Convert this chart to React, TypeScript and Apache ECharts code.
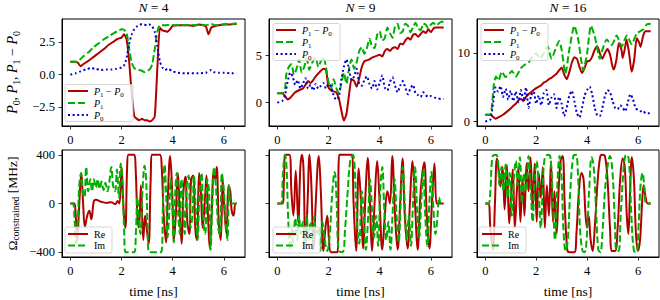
import React, { useEffect, useRef } from "react";
import * as echarts from "echarts";

// ---------- data ----------
const timeTicks = [0, 2, 4, 6];
const panelN = ["4", "9", "16"];
const topYTicks = [[-2.5, 0, 2.5], [0, 5], [0, 10]];
const bottomYTicks = [-400, 0, 400];

// N = 4, populations
const n4Diff = [[0,1.0],[0.2,1.0],[0.3,0.9],[0.4,0.65],[0.5,0.8],[0.7,1.05],[0.9,1.35],[1.1,1.65],[1.3,1.95],[1.5,2.3],[1.7,2.55],[1.85,2.75],[2.0,2.85],[2.1,3.1],[2.2,2.7],[2.3,1.0],[2.4,-1.5],[2.5,-3.2],[2.6,-3.4],[2.7,-3.5],[2.8,-3.4],[2.9,-3.5],[3.0,-3.5],[3.1,-3.6],[3.2,-3.5],[3.3,-3.2],[3.4,0.5],[3.5,3.6],[3.6,3.4],[3.7,3.35],[3.8,3.3],[3.9,3.5],[4.0,3.75],[4.2,3.8],[4.4,3.8],[4.6,3.8],[4.8,3.75],[5.0,3.85],[5.2,3.8],[5.3,3.7],[5.4,3.1],[5.5,3.6],[5.6,3.7],[5.8,3.8],[6.0,3.85],[6.2,3.85],[6.4,3.9],[6.5,3.9]];
const n4P1 = [[0,1.0],[0.3,1.0],[0.4,1.2],[0.5,1.4],[0.7,1.7],[0.9,2.1],[1.1,2.4],[1.3,2.7],[1.5,2.95],[1.7,3.2],[1.9,3.4],[2.0,3.5],[2.1,3.45],[2.2,3.2],[2.3,2.0],[2.4,0.9],[2.5,0.5],[2.6,0.4],[2.8,0.3],[2.9,0.2],[3.0,0.3],[3.1,0.4],[3.2,0.8],[3.3,2.0],[3.4,3.3],[3.5,3.8],[3.7,3.8],[3.9,3.85],[4.1,3.8],[4.3,3.85],[4.5,3.8],[4.7,3.85],[4.9,3.8],[5.1,3.85],[5.3,3.8],[5.5,3.9],[5.7,3.8],[5.9,3.85],[6.1,3.9],[6.3,3.9],[6.5,3.95]];
const n4P0 = [[0,0.0],[0.2,0.1],[0.4,0.25],[0.6,0.4],[0.8,0.5],[1.0,0.45],[1.2,0.35],[1.4,0.4],[1.6,0.4],[1.8,0.45],[2.0,0.55],[2.1,0.7],[2.2,1.3],[2.3,2.4],[2.4,3.1],[2.5,3.5],[2.6,3.7],[2.7,3.8],[2.8,3.9],[3.0,3.8],[3.1,3.85],[3.2,3.7],[3.3,3.3],[3.4,2.2],[3.5,1.0],[3.6,0.55],[3.7,0.35],[3.8,0.45],[4.0,0.25],[4.2,0.15],[4.5,0.1],[5.0,0.1],[5.3,0.15],[5.5,0.35],[5.6,0.2],[5.8,0.15],[6.0,0.15],[6.3,0.1],[6.5,0.1]];

// N = 9, populations
const n9Diff = [[0,1.0],[0.2,1.0],[0.3,0.7],[0.4,0.35],[0.5,0.5],[0.7,1.1],[0.9,1.4],[1.0,1.5],[1.1,1.9],[1.2,2.3],[1.3,2.1],[1.4,2.4],[1.5,2.8],[1.6,3.1],[1.7,3.4],[1.8,3.6],[1.9,3.5],[1.95,2.6],[2.0,1.6],[2.1,1.3],[2.2,1.2],[2.3,1.1],[2.4,0.5],[2.5,-0.8],[2.6,-1.9],[2.7,-1.2],[2.8,0.8],[2.9,2.5],[3.0,2.3],[3.1,1.7],[3.2,2.6],[3.3,3.8],[3.4,4.4],[3.5,4.5],[3.6,4.6],[3.7,4.8],[3.8,4.9],[3.9,5.0],[4.0,5.1],[4.1,4.9],[4.2,5.5],[4.3,5.7],[4.4,5.5],[4.5,5.8],[4.6,5.9],[4.7,5.7],[4.8,6.3],[4.9,6.2],[5.0,6.6],[5.1,6.9],[5.2,6.7],[5.3,7.2],[5.4,7.3],[5.5,7.0],[5.6,7.3],[5.7,7.6],[5.8,7.4],[5.9,7.8],[6.0,7.5],[6.1,7.9],[6.2,8.0],[6.3,8.0],[6.5,8.0]];
const n9P1 = [[0,1.0],[0.2,1.0],[0.3,1.5],[0.35,3.0],[0.45,3.8],[0.55,4.1],[0.65,3.0],[0.75,3.6],[0.85,4.6],[0.95,3.2],[1.05,3.8],[1.15,4.7],[1.25,3.5],[1.35,4.2],[1.5,4.8],[1.6,3.8],[1.7,4.4],[1.8,4.9],[1.9,3.8],[2.0,2.2],[2.1,1.5],[2.2,2.5],[2.3,1.6],[2.4,1.0],[2.5,2.0],[2.6,3.2],[2.7,2.0],[2.8,3.6],[2.9,4.6],[3.0,3.6],[3.1,4.3],[3.2,5.5],[3.3,5.9],[3.4,5.2],[3.5,5.8],[3.6,6.8],[3.7,6.0],[3.8,5.8],[3.9,7.2],[4.0,7.6],[4.1,6.6],[4.2,6.9],[4.3,8.0],[4.4,7.4],[4.5,6.9],[4.6,8.1],[4.7,8.4],[4.8,7.4],[4.9,7.6],[5.0,8.4],[5.1,8.2],[5.2,7.5],[5.3,8.0],[5.4,8.5],[5.5,7.9],[5.6,7.7],[5.7,8.4],[5.8,8.3],[5.9,7.9],[6.0,8.3],[6.1,8.5],[6.2,8.2],[6.3,8.4],[6.4,8.6],[6.5,8.6]];
const n9P0 = [[0,0.0],[0.2,0.2],[0.3,0.8],[0.4,2.2],[0.5,3.2],[0.6,2.8],[0.7,1.9],[0.8,2.4],[0.9,1.5],[1.0,2.0],[1.1,2.6],[1.2,1.5],[1.3,1.9],[1.4,1.3],[1.5,2.0],[1.6,1.5],[1.7,1.8],[1.8,2.1],[1.9,1.5],[2.0,2.0],[2.1,1.7],[2.2,0.8],[2.3,0.3],[2.4,0.6],[2.5,2.5],[2.6,3.8],[2.7,4.6],[2.8,3.6],[2.9,2.4],[3.0,2.8],[3.1,3.6],[3.2,2.0],[3.3,1.8],[3.4,2.4],[3.5,2.8],[3.6,2.0],[3.7,1.5],[3.8,2.3],[3.9,1.4],[4.0,2.1],[4.1,2.9],[4.2,1.6],[4.3,1.3],[4.4,2.2],[4.5,2.7],[4.6,1.8],[4.7,1.1],[4.8,1.8],[4.9,2.3],[5.0,1.6],[5.1,0.9],[5.2,1.5],[5.3,1.9],[5.4,1.0],[5.5,0.8],[5.6,0.6],[5.7,1.1],[5.8,0.8],[5.9,0.6],[6.0,0.7],[6.2,0.5],[6.4,0.4],[6.5,0.4]];

// N = 16, populations
const n16Diff = [[0,1.0],[0.2,1.0],[0.3,0.7],[0.4,0.4],[0.5,0.6],[0.7,1.0],[0.9,1.6],[1.0,1.9],[1.1,2.3],[1.2,2.6],[1.3,3.1],[1.4,3.3],[1.5,3.0],[1.6,3.6],[1.7,4.0],[1.8,4.3],[1.9,4.6],[2.0,4.9],[2.1,5.1],[2.2,5.3],[2.3,5.7],[2.4,5.9],[2.5,6.2],[2.6,6.4],[2.7,6.7],[2.8,7.0],[2.9,7.5],[3.0,7.9],[3.1,6.9],[3.2,6.2],[3.3,7.2],[3.4,8.6],[3.5,9.4],[3.6,9.2],[3.7,8.0],[3.8,7.1],[3.9,7.8],[4.0,8.8],[4.1,8.9],[4.2,9.5],[4.3,10.5],[4.4,11.0],[4.5,10.0],[4.6,9.2],[4.7,10.0],[4.8,10.6],[4.9,9.8],[5.0,8.0],[5.05,7.6],[5.15,9.0],[5.25,11.5],[5.35,10.5],[5.4,9.3],[5.5,11.0],[5.55,12.0],[5.65,10.0],[5.75,7.3],[5.85,9.0],[5.95,12.2],[6.05,11.5],[6.1,10.9],[6.2,12.5],[6.3,13.2],[6.4,13.2],[6.5,13.2]];
const n16P1 = [[0,1.0],[0.2,1.0],[0.28,3.0],[0.34,5.5],[0.42,6.6],[0.52,6.0],[0.65,7.3],[0.8,6.5],[0.95,7.0],[1.05,7.4],[1.2,6.6],[1.4,7.8],[1.55,8.3],[1.7,8.6],[1.85,9.5],[2.0,10.0],[2.15,9.2],[2.3,10.0],[2.45,11.0],[2.6,9.2],[2.75,10.5],[2.9,11.8],[3.0,10.5],[3.15,7.0],[3.3,10.5],[3.5,14.0],[3.65,12.0],[3.85,7.5],[4.0,10.0],[4.15,14.0],[4.3,12.5],[4.5,9.2],[4.6,10.5],[4.77,12.0],[4.97,11.2],[5.16,12.6],[5.36,11.0],[5.56,12.6],[5.75,11.3],[5.95,12.9],[6.08,13.2],[6.21,13.5],[6.34,14.2],[6.5,14.3]];
const n16P0 = [[0,0.0],[0.2,0.3],[0.3,2.5],[0.4,5.0],[0.5,4.4],[0.6,5.2],[0.7,3.6],[0.8,4.8],[0.9,3.2],[1.0,4.5],[1.1,3.0],[1.2,4.4],[1.3,2.8],[1.4,4.6],[1.5,3.0],[1.6,5.0],[1.7,2.0],[1.8,3.8],[1.9,4.4],[2.0,2.6],[2.1,3.8],[2.2,2.4],[2.3,4.2],[2.4,4.6],[2.5,2.4],[2.6,3.5],[2.7,4.0],[2.8,2.0],[2.9,3.6],[3.0,2.6],[3.1,0.8],[3.2,2.0],[3.3,3.8],[3.4,4.5],[3.5,3.0],[3.6,1.2],[3.7,0.6],[3.8,2.0],[3.9,3.8],[4.0,4.6],[4.1,5.1],[4.2,4.0],[4.3,2.0],[4.4,0.9],[4.5,0.8],[4.6,2.0],[4.7,3.7],[4.8,4.6],[4.9,4.3],[5.0,3.0],[5.1,2.0],[5.2,1.8],[5.3,2.4],[5.4,2.0],[5.5,1.5],[5.6,2.8],[5.7,4.0],[5.8,3.3],[5.9,2.0],[6.0,1.7],[6.1,1.5],[6.2,1.6],[6.3,1.2],[6.4,1.2],[6.5,1.2]];

// Control amplitudes [MHz]
const n4Re = [[0,0],[0.15,0],[0.2,-60],[0.27,-300],[0.34,-50],[0.43,250],[0.5,0],[0.57,-190],[0.66,-100],[0.74,-60],[0.82,-130],[0.92,20],[1.0,30],[1.2,15],[1.4,5],[1.6,10],[1.75,-5],[1.85,20],[1.92,0],[2.0,300],[2.08,-50],[2.15,-200],[2.22,300],[2.27,400],[2.5,400],[2.55,300],[2.62,-100],[2.68,-200],[2.76,150],[2.85,-300],[2.92,-100],[2.98,-200],[3.06,-330],[3.14,200],[3.2,400],[3.5,400],[3.57,300],[3.65,-100],[3.74,-320],[3.8,0],[3.9,390],[3.98,100],[4.05,-300],[4.12,-100],[4.2,250],[4.28,-100],[4.35,-330],[4.42,100],[4.5,220],[4.57,-150],[4.65,-250],[4.72,200],[4.8,230],[4.88,-200],[4.95,-300],[5.03,250],[5.1,100],[5.17,-200],[5.25,0],[5.32,230],[5.38,-100],[5.45,-370],[5.52,-100],[5.6,250],[5.67,200],[5.72,300],[5.8,-150],[5.88,-300],[5.95,200],[6.02,-50],[6.1,-250],[6.18,150],[6.25,100],[6.3,-50],[6.38,-100],[6.45,0],[6.5,0]];
const n4Im = [[0,0],[0.1,0],[0.17,-150],[0.22,-330],[0.3,-100],[0.35,150],[0.42,250],[0.48,100],[0.55,50],[0.62,300],[0.7,100],[0.78,200],[0.85,100],[0.92,200],[1.0,130],[1.07,200],[1.15,120],[1.22,180],[1.3,110],[1.37,170],[1.45,100],[1.52,170],[1.6,300],[1.67,150],[1.75,100],[1.82,280],[1.9,50],[1.97,330],[2.04,150],[2.1,-200],[2.16,-400],[2.5,-400],[2.56,-250],[2.62,50],[2.68,-150],[2.74,-250],[2.82,100],[2.9,310],[2.96,200],[3.02,-200],[3.08,-400],[3.55,-400],[3.62,0],[3.68,320],[3.74,100],[3.8,-280],[3.86,-100],[3.92,200],[3.98,0],[4.04,-320],[4.1,100],[4.16,250],[4.22,-100],[4.28,-250],[4.34,200],[4.4,50],[4.47,-250],[4.55,150],[4.62,230],[4.7,-200],[4.77,-100],[4.83,230],[4.9,-50],[4.97,-300],[5.05,100],[5.12,250],[5.2,-150],[5.27,-250],[5.35,200],[5.42,100],[5.48,-380],[5.55,0],[5.62,300],[5.7,100],[5.78,-200],[5.85,-260],[5.92,250],[6.0,100],[6.07,-150],[6.14,-300],[6.2,150],[6.26,0],[6.32,0],[6.5,0]];
const n9Re = [[0,0],[0.2,0],[0.26,200],[0.32,400],[0.47,400],[0.55,100],[0.63,-100],[0.72,270],[0.82,-160],[0.9,300],[0.96,400],[1.02,300],[1.1,-370],[1.18,0],[1.26,400],[1.33,150],[1.42,-380],[1.5,0],[1.62,390],[1.7,100],[1.8,-390],[1.88,-200],[1.95,-100],[2.02,-300],[2.1,-400],[2.35,-400],[2.42,400],[2.9,400],[2.98,0],[3.08,-390],[3.18,290],[3.27,0],[3.35,-370],[3.45,100],[3.53,375],[3.62,0],[3.7,-390],[3.8,0],[3.9,350],[4.0,0],[4.1,-380],[4.2,-100],[4.3,100],[4.4,0],[4.49,390],[4.6,-100],[4.7,-380],[4.8,0],[4.89,370],[4.98,-100],[5.09,-370],[5.18,0],[5.28,350],[5.38,0],[5.48,-380],[5.6,100],[5.74,340],[5.84,-100],[5.94,-370],[6.04,0],[6.14,330],[6.22,0],[6.28,0],[6.5,0]];
const n9Im = [[0,0],[0.15,0],[0.22,250],[0.3,400],[0.36,300],[0.42,-100],[0.5,-380],[0.56,-200],[0.62,-320],[0.7,-120],[0.78,-300],[0.85,-100],[0.92,-250],[1.0,-150],[1.08,-330],[1.15,-100],[1.22,-300],[1.3,-150],[1.38,-350],[1.45,-100],[1.52,-250],[1.6,-200],[1.68,-390],[1.76,-150],[1.85,-300],[1.95,-390],[2.05,-250],[2.15,100],[2.24,260],[2.32,0],[2.4,-390],[2.55,-400],[2.65,-200],[2.75,100],[2.85,350],[2.95,400],[3.02,300],[3.1,-100],[3.2,-330],[3.3,100],[3.38,-100],[3.46,-380],[3.55,-100],[3.62,200],[3.7,-50],[3.78,-280],[3.86,-100],[3.94,-350],[4.02,100],[4.1,300],[4.18,-50],[4.26,-300],[4.34,-150],[4.42,-380],[4.5,-100],[4.58,200],[4.66,-100],[4.74,-320],[4.82,0],[4.9,300],[4.98,0],[5.06,-300],[5.14,-100],[5.22,-350],[5.3,0],[5.38,300],[5.46,-50],[5.54,-280],[5.62,0],[5.7,280],[5.78,-100],[5.86,-350],[5.94,0],[6.02,260],[6.1,-50],[6.18,-250],[6.26,-100],[6.32,50],[6.4,0],[6.5,0]];
const n16Re = [[0,0],[0.12,0],[0.2,-200],[0.3,-380],[0.38,0],[0.46,370],[0.54,250],[0.6,140],[0.68,300],[0.76,-50],[0.85,317],[0.94,-165],[1.02,100],[1.08,280],[1.16,-200],[1.24,100],[1.3,300],[1.38,-150],[1.46,200],[1.54,-100],[1.62,330],[1.7,100],[1.78,380],[1.86,-50],[1.94,330],[2.02,-150],[2.1,250],[2.18,50],[2.26,300],[2.34,-200],[2.42,150],[2.5,-100],[2.58,350],[2.66,-150],[2.72,100],[2.8,-250],[2.88,100],[2.96,350],[3.04,390],[3.12,0],[3.22,-380],[3.3,-400],[3.5,-400],[3.58,-250],[3.68,100],[3.78,250],[3.86,200],[3.94,-100],[4.0,-200],[4.06,-100],[4.14,-300],[4.22,-390],[4.3,-200],[4.42,200],[4.52,390],[4.6,400],[4.7,390],[4.8,200],[4.9,-200],[4.98,-390],[5.1,-390],[5.2,-200],[5.3,200],[5.4,370],[5.48,300],[5.56,-100],[5.62,-250],[5.68,50],[5.76,380],[5.84,200],[5.92,-250],[6.0,-390],[6.08,-300],[6.16,0],[6.22,150],[6.3,50],[6.38,0],[6.5,0]];
const n16Im = [[0,0],[0.12,0],[0.2,100],[0.28,380],[0.4,400],[0.48,380],[0.56,150],[0.64,300],[0.72,100],[0.8,320],[0.88,50],[0.96,250],[1.04,-100],[1.12,200],[1.2,350],[1.28,150],[1.36,380],[1.44,0],[1.52,250],[1.6,100],[1.7,390],[1.78,150],[1.86,-150],[1.94,200],[2.02,350],[2.1,100],[2.18,-200],[2.26,150],[2.34,380],[2.46,400],[2.56,380],[2.66,0],[2.74,-300],[2.82,100],[2.92,390],[3.0,200],[3.08,-250],[3.16,-390],[3.24,-300],[3.34,100],[3.46,390],[3.56,400],[3.64,250],[3.72,-200],[3.82,-390],[3.9,-400],[3.98,-300],[4.08,100],[4.18,380],[4.26,300],[4.34,0],[4.44,-380],[4.52,-400],[4.6,-250],[4.7,100],[4.8,300],[4.9,390],[5.0,250],[5.08,-100],[5.16,-390],[5.24,-390],[5.32,-100],[5.42,250],[5.5,390],[5.58,400],[5.66,300],[5.74,-100],[5.84,-390],[5.94,-400],[6.02,-200],[6.1,150],[6.18,250],[6.26,100],[6.32,0],[6.5,0]];

const topLegendLabels = ["{i|P}{s|1}{n| − }{i|P}{s|0}", "{i|P}{s|1}", "{i|P}{s|0}"];
const bottomLegendLabels = ["{n|Re}", "{n|Im}"];

// ---------- styles ----------
const FONT = "Liberation Serif";
const RED = "#b00000";
const GREEN = "#00b000";
const BLUE = "#0000cc";
const GREEN_DASH = [7, 3];
const BLUE_DOT = [2, 2.6];

const LEFTS = [62, 269, 477];
const WIDTHS = [183, 183, 182];
const TOPS = [19, 150];
const H = 107;
const TICK_FS = 12.5;

function rich(size: number) {
  const sub = Math.round(size * 0.7 * 10) / 10;
  return {
    n: { fontFamily: FONT, fontSize: size, fontWeight: "normal", fill: "#000", color: "#000", lineHeight: size + 4 },
    i: { fontFamily: FONT, fontSize: size, fontWeight: "normal", fontStyle: "italic", fill: "#000", color: "#000", lineHeight: size + 4 },
    s: { fontFamily: FONT, fontSize: sub, fontWeight: "normal", fill: "#000", color: "#000", verticalAlign: "bottom", lineHeight: sub },
  };
}

function textStyle(text: string, size: number, richSize: number | null, align = "center") {
  const st: any = {
    text, fontFamily: FONT, fontSize: size, fontWeight: "normal", fontStyle: "normal",
    fill: "#000", stroke: "none", lineWidth: 0, align, verticalAlign: "middle",
  };
  if (richSize) st.rich = rich(richSize);
  return st;
}

function minus(v: number, digits = -1) {
  const s = digits >= 0 ? v.toFixed(digits) : String(v);
  return s.replace("-", "−");
}

function legend(x0: number, y0: number, w: number, h: number, firstY: number, step: number,
  items: { label: string; color: string; dash: number[] | null }[]) {
  const els: any[] = [{
    type: "rect", z: 100,
    shape: { x: x0, y: y0, width: w, height: h, r: 2 },
    style: { fill: "rgba(255,255,255,0.8)", stroke: "#cccccc", lineWidth: 0.8 },
  }];
  items.forEach((it, k) => {
    const yy = firstY + k * step;
    els.push({
      type: "line", z: 101,
      shape: { x1: x0 + 3, y1: yy, x2: x0 + 23, y2: yy },
      style: { stroke: it.color, lineWidth: 2, lineDash: it.dash || undefined },
    });
    els.push({ type: "text", z: 101, x: x0 + 29, y: yy, style: textStyle(it.label, 10, 10, "left") });
  });
  return els;
}

export default function App() {
  const ref = useRef<HTMLDivElement>(null);
  useEffect(() => {
    document.body.style.margin = "0";
    const chart = echarts.init(ref.current!, null, { renderer: "svg" });

    const grids: any[] = [];
    const xAxes: any[] = [];
    const yAxes: any[] = [];
    const tickStyle = (vals: number[]) => ({ show: true, inside: false, length: 3.5, lineStyle: { color: "#000", width: 0.8 }, customValues: vals });
    for (let r = 0; r < 2; r++) {
      for (let c = 0; c < 3; c++) {
        const idx = r * 3 + c;
        grids.push({
          left: LEFTS[c], top: TOPS[r], width: WIDTHS[c], height: H,
          show: true, borderColor: "#000", borderWidth: 1, backgroundColor: "transparent",
          outerBoundsMode: "none", containLabel: false,
        });
        xAxes.push({
          type: "value", gridIndex: idx, min: -0.325, max: 6.825, position: "bottom",
          splitLine: { show: false }, axisLine: { show: true, onZero: false, lineStyle: { color: "#000", width: 1 } },
          axisTick: tickStyle(timeTicks),
          axisLabel: { show: true, customValues: timeTicks, fontFamily: FONT, fontSize: TICK_FS, color: "#000", margin: 7,
            formatter: (v: number) => minus(v) },
        });
        if (r === 0) {
          const ranges = [[-3.95, 4.28], [-2.48, 8.9], [-0.65, 15.0]];
          yAxes.push({
            type: "value", gridIndex: idx, min: ranges[c][0], max: ranges[c][1], position: "left",
            splitLine: { show: false }, axisLine: { show: true, onZero: false, lineStyle: { color: "#000", width: 1 } },
            axisTick: tickStyle(topYTicks[c]),
            axisLabel: { show: true, customValues: topYTicks[c], fontFamily: FONT, fontSize: TICK_FS, color: "#000", margin: 7,
              hideOverlap: false, formatter: (v: number) => (c === 0 ? minus(v, 1) : minus(v)) },
          });
        } else {
          yAxes.push({
            type: "value", gridIndex: idx, min: -440, max: 440, position: "left",
            splitLine: { show: false }, axisLine: { show: true, onZero: false, lineStyle: { color: "#000", width: 1 } },
            axisTick: tickStyle(bottomYTicks),
            axisLabel: { show: c === 0, customValues: bottomYTicks, fontFamily: FONT, fontSize: TICK_FS, color: "#000", margin: 7,
              formatter: (v: number) => minus(v) },
          });
        }
      }
    }

    const line = (idx: number, data: number[][], color: string, dash: number[] | null, smooth: number) => ({
      type: "line", xAxisIndex: idx, yAxisIndex: idx, data, showSymbol: false, symbol: "none",
      smooth, clip: true, silent: true,
      lineStyle: { color, width: 2, type: dash || "solid" },
    });

    const topSets = [[n4Diff, n4P1, n4P0], [n9Diff, n9P1, n9P0], [n16Diff, n16P1, n16P0]];
    const botSets = [[n4Re, n4Im], [n9Re, n9Im], [n16Re, n16Im]];
    const series: any[] = [];
    topSets.forEach((s, c) => {
      series.push(line(c, s[0], RED, null, 0.2));
      series.push(line(c, s[1], GREEN, GREEN_DASH, 0.2));
      series.push(line(c, s[2], BLUE, BLUE_DOT, 0.2));
    });
    botSets.forEach((s, c) => {
      series.push(line(3 + c, s[0], RED, null, 0.4));
      series.push(line(3 + c, s[1], GREEN, GREEN_DASH, 0.4));
    });

    const graphics: any[] = [];
    panelN.forEach((n, c) => {
      graphics.push({ type: "text", x: LEFTS[c] + WIDTHS[c] / 2, y: 7.5, style: textStyle("{i|N}{n| = " + n + "}", 13.5, 13.5) });
      graphics.push({ type: "text", x: LEFTS[c] + WIDTHS[c] / 2, y: 291, style: textStyle("{n|time [ns]}", 13.5, 13.5) });
    });
    graphics.push({
      type: "text", x: 12, y: 72.5, rotation: Math.PI / 2,
      style: textStyle("{i|P}{s|0}{n|, }{i|P}{s|1}{n|, }{i|P}{s|1}{n| − }{i|P}{s|0}", 14, 14),
    });
    graphics.push({
      type: "text", x: 12, y: 203.5, rotation: Math.PI / 2,
      style: textStyle("{n|Ω}{s|constrained}{n| [MHz]}", 13.5, 13.5),
    });
    const topItems = [
      { label: topLegendLabels[0], color: RED, dash: null },
      { label: topLegendLabels[1], color: GREEN, dash: GREEN_DASH },
      { label: topLegendLabels[2], color: BLUE, dash: BLUE_DOT },
    ];
    const botItems = [
      { label: bottomLegendLabels[0], color: RED, dash: null },
      { label: bottomLegendLabels[1], color: GREEN, dash: GREEN_DASH },
    ];
    graphics.push(...legend(65, 84.5, 68, 37, 91, 12, topItems));
    graphics.push(...legend(273, 23.5, 67, 37, 30, 12, topItems));
    graphics.push(...legend(481, 23.5, 67, 37, 30, 12, topItems));
    graphics.push(...legend(65, 227, 47, 26, 234, 11.5, botItems));
    graphics.push(...legend(273, 227, 47, 26, 234, 11.5, botItems));
    graphics.push(...legend(479, 227, 47, 26, 234, 11.5, botItems));

    chart.setOption({
      animation: false,
      backgroundColor: "#fff",
      grid: grids,
      xAxis: xAxes,
      yAxis: yAxes,
      series,
      graphic: graphics,
    });
    return () => chart.dispose();
  }, []);
  return <div ref={ref} style={{ width: 660, height: 300 }} />;
}
